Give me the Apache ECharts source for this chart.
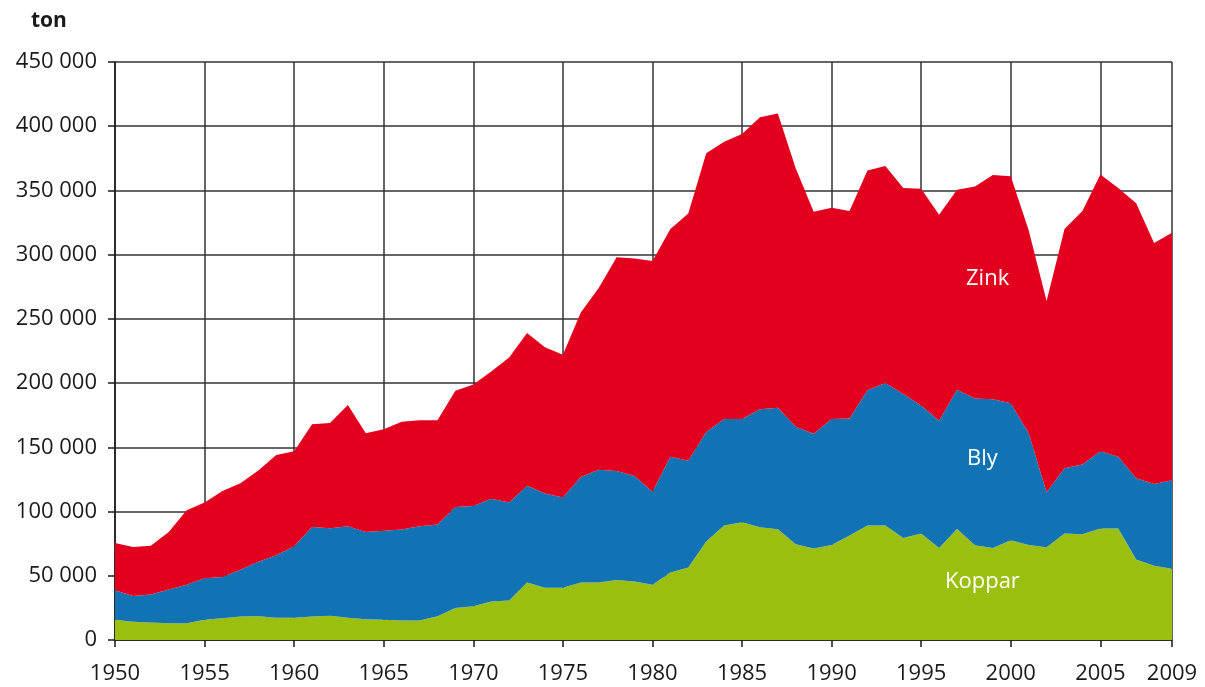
<!DOCTYPE html>
<html>
<head>
<meta charset="utf-8">
<script src="https://cdn.jsdelivr.net/npm/echarts@6/dist/echarts.min.js"></script>
<style>
  html, body { margin: 0; padding: 0; background: #fff; }
  #main { width: 1205px; height: 687px; }
</style>
</head>
<body>
<div id="main"></div>
<script>
// metal output per year, tons
var years = [1950,1951,1952,1953,1954,1955,1956,1957,1958,1959,
             1960,1961,1962,1963,1964,1965,1966,1967,1968,1969,
             1970,1971,1972,1973,1974,1975,1976,1977,1978,1979,
             1980,1981,1982,1983,1984,1985,1986,1987,1988,1989,
             1990,1991,1992,1993,1994,1995,1996,1997,1998,1999,
             2000,2001,2002,2003,2004,2005,2006,2007,2008,2009];

var koppar = [15800,14300,13700,13100,13100,15800,17000,18200,18500,17300,
              17300,18200,18800,17300,16100,15800,15200,15200,18500,25000,
              26300,30000,30700,44700,40600,40600,44700,44700,46800,45600,
              43000,52500,56400,76700,89200,91600,87700,86200,74600,71300,
              74000,81400,89200,89200,79400,83000,71600,86500,73700,71600,
              77600,74000,72200,83000,82300,86800,86800,62600,57900,55500];

var bly = [23000,20000,21800,26300,29900,32200,32000,36400,42500,48700,
           55700,69800,68200,71300,67900,69200,70800,73400,71500,78500,
           78100,80000,76300,75300,73400,70400,82300,87800,84800,82100,
           72500,90100,83200,85300,82800,80400,91900,94600,91400,89200,
           98000,91000,105300,110800,112100,99600,99000,108300,114300,115800,
           106800,87000,42800,50700,54300,60200,55800,63400,63500,68900];

var zink = [36700,38200,37900,44600,58000,59000,67000,67400,71000,78000,
            74000,80000,82000,94400,77000,79000,84000,82400,81000,90500,
            94600,99000,113000,119000,114000,111000,128000,141500,166400,169300,
            179500,177400,192400,217000,216000,222000,227400,229200,201000,173000,
            164500,161600,171000,169000,160500,168800,160400,155700,165000,174600,
            176600,158000,149000,186300,197400,215500,209400,214000,187600,192600];

var seriesNames = ['Koppar', 'Bly', 'Zink'];
var seriesColors = ['#9abf0f', '#1172b4', '#e2001e'];

function fmt(v) {
  return String(v).replace(/\B(?=(\d{3})+(?!\d))/g, ' ');
}

// tick, label and grid line every fifth year plus the last one
function showYear(idx) {
  return years[idx] % 5 === 0 || idx === years.length - 1;
}

var chart = echarts.init(document.getElementById('main'), null, { renderer: 'canvas' });

var labelFont = '"Open Sans", "Noto Sans", sans-serif';

var option = {
  animation: false,
  textStyle: { fontFamily: labelFont },
  title: {
    text: 'ton',
    left: 26,
    top: 6,
    textStyle: { fontSize: 21, fontWeight: 'bold', color: '#1a1a1a', fontFamily: labelFont }
  },
  grid: { left: 115, right: 33, top: 62, bottom: 47 },
  xAxis: {
    type: 'category',
    data: years.map(String),
    boundaryGap: false,
    axisLine: { show: true, lineStyle: { color: '#1a1a1a', width: 1.5 } },
    axisTick: { show: true, length: 7, interval: showYear, lineStyle: { color: '#1a1a1a', width: 1.5 } },
    axisLabel: { color: '#1a1a1a', fontSize: 22, margin: 23, interval: showYear },
    splitLine: { show: true, interval: showYear, lineStyle: { color: '#333', width: 1.5 } }
  },
  yAxis: {
    type: 'value',
    min: 0,
    max: 450000,
    interval: 50000,
    axisLine: { show: true, lineStyle: { color: '#1a1a1a', width: 1.5 } },
    axisTick: { show: true, length: 7, lineStyle: { color: '#1a1a1a', width: 1.5 } },
    axisLabel: { color: '#1a1a1a', fontSize: 22, margin: 18, formatter: fmt },
    splitLine: { show: true, lineStyle: { color: '#333', width: 1.5 } }
  },
  series: seriesNames.map(function (name, i) {
    return {
      name: name,
      type: 'line',
      stack: 'total',
      showSymbol: false,
      silent: true,
      lineStyle: { width: 0 },
      itemStyle: { color: seriesColors[i] },
      areaStyle: { color: seriesColors[i], opacity: 1 },
      data: [koppar, bly, zink][i]
    };
  }),
  graphic: [
    { type: 'text', left: 966, top: 268, z: 100,
      style: { text: 'Zink', fill: '#fff', fontSize: 22, fontFamily: labelFont } },
    { type: 'text', left: 967, top: 448, z: 100,
      style: { text: 'Bly', fill: '#fff', fontSize: 22, fontFamily: labelFont } },
    { type: 'text', left: 945, top: 571, z: 100,
      style: { text: 'Koppar', fill: '#fff', fontSize: 22, fontFamily: labelFont } }
  ]
};

chart.setOption(option);
</script>
</body>
</html>
